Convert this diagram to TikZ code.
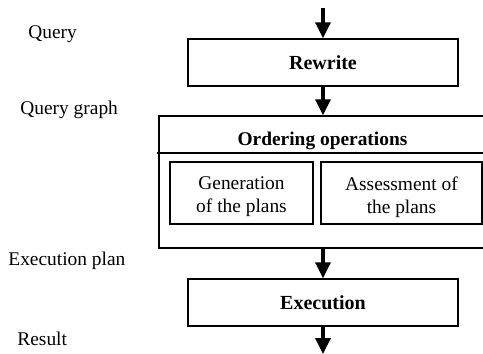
\documentclass[tikz,border=0pt]{standalone}
\usepackage{fontspec}
\setmainfont{Liberation Serif}
\usetikzlibrary{arrows.meta}

\tikzset{
  stage/.style={draw, line width=0.75pt, font=\bfseries, minimum width=135pt, minimum height=23.5pt},
  subbox/.style={draw, line width=0.75pt, inner sep=0pt, minimum height=31pt},
  subtext/.style={align=center, inner sep=0pt},
  lbl/.style={anchor=west, inner sep=0pt},
  flow/.style={line width=1.7pt, -{Triangle[length=8pt,width=7.5pt]}}
}

\begin{document}
\begin{tikzpicture}[x=0.5pt,y=-0.5pt,font=\fontsize{9.7}{11.5}\selectfont]
\clip (0,0) rectangle (483,354);

% stages
\node[stage] (rewrite) at (323,62.5) {Rewrite};
\node[draw, line width=0.75pt, minimum width=163.5pt, minimum height=66pt] (ordering) at (322.5,182) {};
\node[font=\fontsize{9.7}{11.5}\selectfont\bfseries] (title) at (322.5,141) {Ordering operations};
\draw[line width=0.75pt] (157,153) -- (486,153);
\node[subbox, minimum width=71.5pt] (gen) at (241.5,193) {};
\node[subbox, minimum width=80.5pt] (assess) at (401.5,193) {};
\node[subtext] (gentext) at (241.5,197) {Generation\\of the plans};
\node[subtext] (assesstext) at (401.5,197) {Assessment of\\the plans};
\node[stage] (exec) at (323,302.5) {Execution};

% labels
\node[lbl] (query) at (28,34) {Query};
\node[lbl] (graph) at (20,110) {Query graph};
\node[lbl] (plan) at (8,261) {Execution plan};
\node[lbl] (result) at (17,339) {Result};

% flow
\coordinate (in) at (323,8);
\coordinate (out) at (323,354);
\draw[flow] (in) -- (rewrite.north);
\draw[flow] (rewrite.south) -- (rewrite.south |- ordering.north);
\draw[flow] (exec.north |- ordering.south) -- (exec.north);
\draw[flow] (exec.south) -- (out);
\end{tikzpicture}
\end{document}
